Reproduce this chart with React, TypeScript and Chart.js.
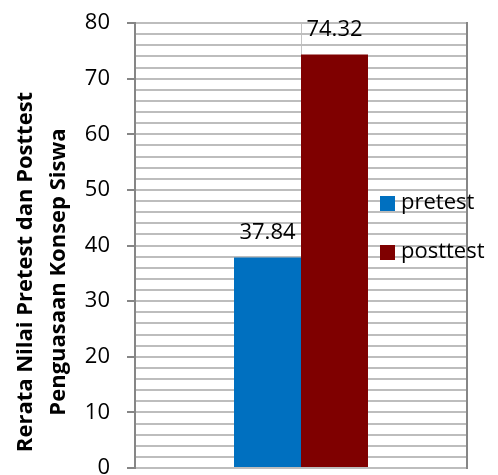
import React, { useEffect, useRef } from "react";
import { Chart, registerables } from "chart.js";

Chart.register(...registerables);

const categories = [""];
const seriesNames = ["pretest", "posttest"];
const pretestValues = [37.84];
const posttestValues = [74.32];
const seriesColors = ["#0070C0", "#7F0000"];
const yTitleLines = ["Rerata Nilai Pretest dan Posttest", "Penguasaan Konsep Siswa"];
const yMin = 0;
const yMax = 80;
const yMinorStep = 2;
const yMajorStep = 10;

const FONT = "'Open Sans', sans-serif";

const overlayPlugin = {
  id: "overlay",
  afterDatasetsDraw(chart: any) {
    const ctx = chart.ctx;
    ctx.save();
    // data labels
    ctx.font = `22px ${FONT}`;
    ctx.fillStyle = "#000";
    ctx.textAlign = "center";
    ctx.textBaseline = "alphabetic";
    chart.data.datasets.forEach((ds: any, di: number) => {
      const meta = chart.getDatasetMeta(di);
      meta.data.forEach((bar: any, i: number) => {
        const v = ds.data[i];
        ctx.fillText(v.toFixed(2), bar.x, bar.y - 19);
      });
    });
    // legend
    const legendY = [203, 252];
    chart.data.datasets.forEach((ds: any, di: number) => {
      const cy = legendY[di];
      ctx.fillStyle = ds.backgroundColor;
      ctx.fillRect(380, cy - 7, 15, 15);
      ctx.fillStyle = "#000";
      ctx.textAlign = "left";
      ctx.textBaseline = "middle";
      ctx.font = `22px ${FONT}`;
      ctx.fillText(ds.label, 401, cy);
    });
    // y axis title
    ctx.font = `bold 22px ${FONT}`;
    ctx.fillStyle = "#000";
    ctx.textAlign = "center";
    ctx.textBaseline = "middle";
    const xs = [26, 59];
    yTitleLines.forEach((t, i) => {
      ctx.save();
      ctx.translate(xs[i], 272);
      ctx.rotate(-Math.PI / 2);
      ctx.fillText(t, 0, 0);
      ctx.restore();
    });
    ctx.restore();
  },
};

export default function App() {
  const ref = useRef<HTMLCanvasElement>(null);
  useEffect(() => {
    document.body.style.margin = "0";
    const chart = new Chart(ref.current!, {
      type: "bar",
      data: {
        labels: categories,
        datasets: [
          { label: seriesNames[0], data: pretestValues, backgroundColor: seriesColors[0] },
          { label: seriesNames[1], data: posttestValues, backgroundColor: seriesColors[1] },
        ],
      },
      options: {
        animation: false,
        responsive: false,
        devicePixelRatio: 1,
        layout: { autoPadding: false, padding: { top: 23, bottom: 7, left: 0, right: 31 } },
        datasets: { bar: { categoryPercentage: 0.4036, barPercentage: 1 } },
        plugins: { legend: { display: false }, tooltip: { enabled: false } },
        scales: {
          x: {
            type: "category",
            ticks: { display: false },
            grid: { offset: false, color: "#c4c4c4", lineWidth: 1, drawTicks: false },
            border: { display: false },
            afterFit: (s: any) => { s.height = 0; s.paddingLeft = 0; s.paddingRight = 0; s.paddingTop = 0; s.paddingBottom = 0; },
          },
          y: {
            min: yMin,
            max: yMax,
            ticks: {
              stepSize: yMinorStep,
              autoSkip: false,
              padding: 17,
              color: "#000",
              font: { family: FONT, size: 22 },
              callback: (v: any) => (v % yMajorStep === 0 ? String(v) : ""),
            },
            grid: {
              color: "#bdbdbd",
              lineWidth: 2,
              tickLength: 8,
              tickWidth: 2,
              tickColor: (c: any) => (c.tick && c.tick.value % yMajorStep === 0 ? "#868686" : "rgba(0,0,0,0)"),
            },
            border: { display: true, color: "#868686", width: 2 },
            afterFit: (s: any) => { s.width = 135; s.paddingTop = 0; s.paddingBottom = 0; },
          },
          yr: {
            position: "right",
            min: yMin,
            max: yMax,
            ticks: { display: false },
            grid: { display: false },
            border: { display: true, color: "#868686", width: 2 },
            afterFit: (s: any) => { s.width = 0; s.paddingTop = 0; s.paddingBottom = 0; },
          },
        },
      } as any,
      plugins: [overlayPlugin],
    });
    return () => chart.destroy();
  }, []);
  return (
    <div style={{ position: "fixed", left: 0, top: 0, width: 498, height: 475, background: "#fff" }}>
      <canvas ref={ref} width={498} height={475} style={{ width: 498, height: 475 }} />
    </div>
  );
}
